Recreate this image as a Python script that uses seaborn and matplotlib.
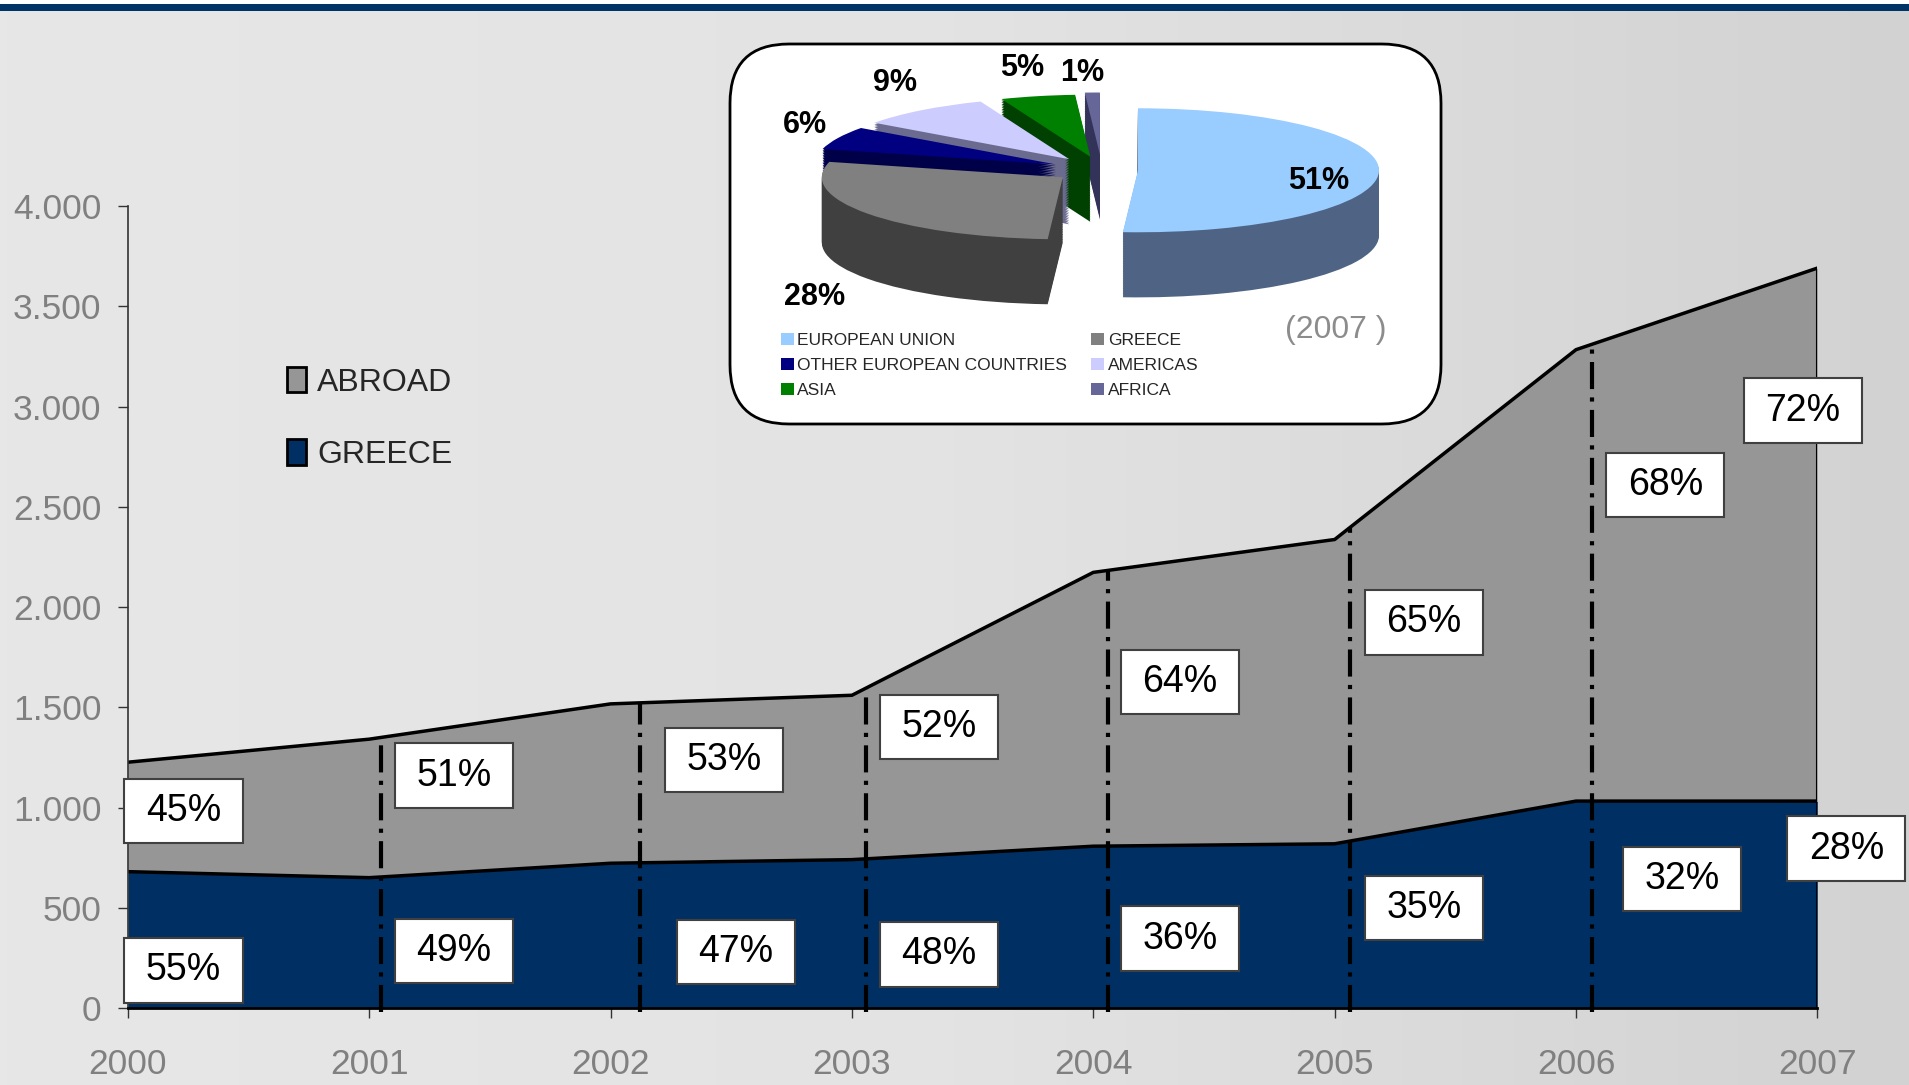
import numpy as np
import pandas as pd
import matplotlib.pyplot as plt
import seaborn as sns
from matplotlib.patches import FancyBboxPatch, Rectangle, Patch
from matplotlib.colors import LinearSegmentedColormap

# values
years = [2000, 2001, 2002, 2003, 2004, 2005, 2006, 2007]
greece = [680, 650, 722, 740, 807, 819, 1032, 1032]
abroad = [546, 691, 795, 820, 1366, 1518, 2252, 2659]
abroad_pct = ["45%", "51%", "53%", "52%", "64%", "65%", "68%", "72%"]
greece_pct = ["55%", "49%", "47%", "48%", "36%", "35%", "32%", "28%"]
divider_x = [2001.05, 2002.12, 2003.06, 2004.06, 2005.065, 2006.065]

pie_regions = ["EUROPEAN UNION", "GREECE", "OTHER EUROPEAN COUNTRIES",
               "AMERICAS", "ASIA", "AFRICA"]
pie_share = [51, 28, 6, 9, 5, 1]
pie_pct = ["51%", "28%", "6%", "9%", "5%", "1%"]

# layout (label spots)
abroad_xy = [(2000.23, 983), (2001.35, 1159), (2002.47, 1238), (2003.36, 1402),
             (2004.36, 1627), (2005.37, 1924), (2006.37, 2610), (2006.94, 2980)]
greece_xy = [(2000.23, 188), (2001.35, 285), (2002.52, 279), (2003.36, 267),
             (2004.36, 346), (2005.37, 498), (2006.44, 643), (2007.12, 795)]
pie_label_xy = [(0.9, -0.17), (-1.19, -2.05), (-1.23, 0.72),
                (-0.86, 1.41), (-0.33, 1.64), (-0.08, 1.56)]
box_w, box_h = 0.49, 322   # label box size in data units

NAVY = "#003063"
GRAY = "#969696"
top_colors = ["#99CCFF", "#808080", "#000080", "#CCCCFF", "#008000", "#666699"]
side_colors = ["#4F6484", "#404040", "#000048", "#6B6B8F", "#004000", "#33335A"]
explode = [0.15, 0.2, 0.21, 0.22, 0.22, 0.25]

sns.set_theme(style="ticks")
plt.rcParams['font.family'] = ['Liberation Sans Narrow', 'Liberation Sans', 'DejaVu Sans']

df = pd.DataFrame({"year": years, "greece": greece, "abroad": abroad})
df["total"] = df["greece"] + df["abroad"]

fig = plt.figure(figsize=(19.09, 10.85), dpi=100)

# background: light marble-ish grey, darker to the right
bg = fig.add_axes([0, 0, 1, 1], zorder=-10)
bg_cmap = LinearSegmentedColormap.from_list("bg", ["#E8E7E8", "#E3E3E3", "#D2D2D2"])
bg.imshow(np.linspace(0, 1, 256)[None, :], cmap=bg_cmap, aspect="auto",
          extent=[0, 1, 0, 1])
bg.axis("off")

# top band
fig.add_artist(Rectangle((0, 1 - 4 / 1085), 1, 4 / 1085, transform=fig.transFigure,
                         color="white", lw=0))
fig.add_artist(Rectangle((0, 1 - 11 / 1085), 1, 7 / 1085, transform=fig.transFigure,
                         color="#003366", lw=0))

ax = fig.add_axes([0.067, 0.071, 0.885, 0.739])
ax.set_facecolor("none")

ax.fill_between(df["year"], 0, df["greece"], color=NAVY, lw=0, zorder=1)
ax.fill_between(df["year"], df["greece"], df["total"], color=GRAY, lw=0, zorder=1)
sns.lineplot(data=df, x="year", y="greece", color="black", lw=2.5, ax=ax, zorder=2)
sns.lineplot(data=df, x="year", y="total", color="black", lw=2.5, ax=ax, zorder=2)
ax.plot([years[-1], years[-1]], [0, df["total"].iloc[-1]], color="black", lw=1.5, zorder=2)

for x in divider_x:
    top = np.interp(x, df["year"], df["total"])
    ax.plot([x, x], [-20, top], color="black", lw=3, ls=(0, (6.5, 2, 1, 2)),
            clip_on=False, zorder=3)

for xy_list, pct_list in [(abroad_xy, abroad_pct), (greece_xy, greece_pct)]:
    for (x, y), s in zip(xy_list, pct_list):
        ax.add_patch(Rectangle((x - box_w / 2, y - box_h / 2), box_w, box_h,
                               fc="white", ec="#404040", lw=1.5, zorder=5, clip_on=False))
        ax.text(x, y, s, ha="center", va="center", fontsize=27, color="black",
                zorder=6, clip_on=False)

ax.set_xlim(2000, 2007)
ax.set_ylim(0, 4000)
ax.set_xticks(years)
ax.set_xticklabels([str(y) for y in years])
yt = list(range(0, 4001, 500))
ax.set_yticks(yt)
ax.set_yticklabels([f"{v:,}".replace(",", ".") for v in yt])
ax.set_xlabel("")
ax.set_ylabel("")
sns.despine(ax=ax)
ax.spines["left"].set_color("#333333")
ax.spines["left"].set_linewidth(1.2)
ax.spines["bottom"].set_color("black")
ax.spines["bottom"].set_linewidth(2)
ax.tick_params(axis="both", length=7, width=1, color="#333333",
               labelsize=25.5, labelcolor="#808080")
ax.tick_params(axis="x", pad=22)
ax.tick_params(axis="y", pad=12)

handles = [Patch(fc=GRAY, ec="black", lw=2), Patch(fc=NAVY, ec="black", lw=2)]
fig.legend(handles, ["ABROAD", "GREECE"], loc="upper left",
           bbox_to_anchor=(258 / 1909, 1 - 338 / 1085), frameon=False,
           fontsize=23, handlelength=0.6, handleheight=0.85,
           handletextpad=0.35, labelspacing=1.3)

# inset pie
ax_pie = fig.add_axes([0.398, 0.6959, 0.3562, 0.258])
ax_pie.set_zorder(5)
frame = FancyBboxPatch((730 / 1909, 1 - 424 / 1085), 711 / 1909, 380 / 1085,
                       boxstyle="round,pad=0,rounding_size=0.031",
                       mutation_aspect=1909 / 1085, transform=fig.transFigure,
                       fc="white", ec="black", lw=2, clip_on=False, zorder=0)
ax_pie.add_patch(frame)

depth = 1.05
for k in np.linspace(-depth, 0, 40)[:-1]:
    ax_pie.pie(pie_share, colors=side_colors, startangle=90, counterclock=False,
               explode=explode, center=(0, k), wedgeprops=dict(lw=0))
wedges, _ = ax_pie.pie(pie_share, colors=top_colors, startangle=90, counterclock=False,
                       explode=explode, center=(0, 0), wedgeprops=dict(lw=0))
ax_pie.set_aspect("auto")
ax_pie.set_xlim(-1.419, 1.402)
ax_pie.set_ylim(-2.58, 1.935)
ax_pie.axis("off")

for (x, y), s in zip(pie_label_xy, pie_pct):
    ax_pie.text(x, y, s, ha="center", va="center", fontsize=22, fontweight="bold",
                color="black")

order = [0, 2, 4, 1, 3, 5]
leg_handles = [Patch(fc=top_colors[i], ec="none") for i in order]
ax_pie.legend(leg_handles, [pie_regions[i] for i in order], ncol=2, loc="upper left",
              bbox_to_anchor=(772 / 1909, 1 - 324 / 1085),
              bbox_transform=fig.transFigure, frameon=False, fontsize=12.5,
              handlelength=0.75, handleheight=0.75, handletextpad=0.2,
              columnspacing=1.4, labelspacing=0.55, borderpad=0)
ax_pie.text(1336 / 1909, 1 - 330 / 1085, "(2007 )", transform=fig.transFigure,
            ha="center", va="center", fontsize=23, color="#8C8C8C")

fig.savefig("out.png", dpi=100)
